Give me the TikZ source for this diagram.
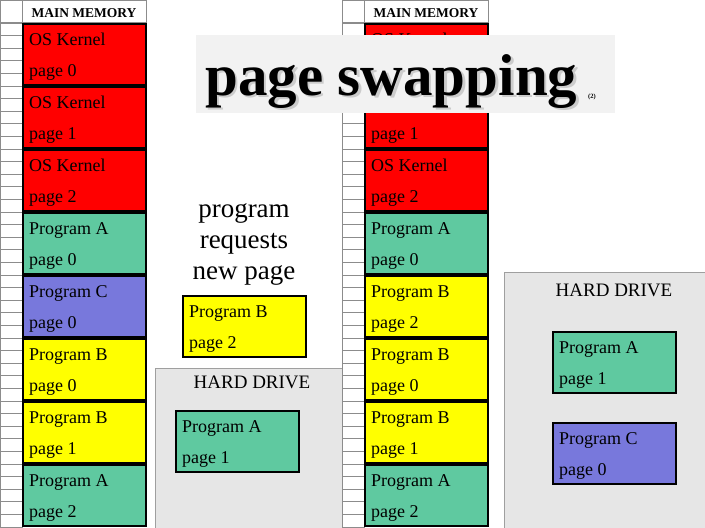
\documentclass[tikz,border=0pt]{standalone}
\usepackage{fontspec}
\setmainfont{Liberation Serif}
\definecolor{memred}{HTML}{FF0000}
\definecolor{memgreen}{HTML}{5FC9A0}
\definecolor{mempurple}{HTML}{7878DC}
\definecolor{memyellow}{HTML}{FFFF00}
\definecolor{hdgrey}{HTML}{E6E6E6}
\definecolor{titlegrey}{HTML}{F2F2F2}
\definecolor{gridgrey}{HTML}{8C8C8C}
\tikzset{
  blk/.style={draw=black, line width=2.5pt, anchor=north west, minimum width=123pt, minimum height=61pt, inner sep=0pt, outer sep=0pt},
  txt/.style={anchor=base west, inner sep=0pt, font=\fontsize{18}{20}\selectfont},
  gridline/.style={draw=gridgrey, line width=1pt},
  hdbox/.style={draw=gray!75, fill=hdgrey, line width=1pt},
  hdlabel/.style={anchor=base, inner sep=0pt, font=\fontsize{19}{21}\selectfont},
  hdr/.style={anchor=base, inner sep=0pt, font=\fontsize{13.5}{15}\selectfont\bfseries},
  bigtxt/.style={anchor=base, inner sep=0pt, font=\fontsize{27}{30}\selectfont},
}
\newcommand\memblk[6]{%
  \node[blk, fill=#4] (#1) at (#2,#3) {};
  \node[txt] (#1-a) at ({#2+6},{#3+21}) {#5};
  \node[txt] (#1-b) at ({#2+6},{#3+52}) {#6};
}
\newcommand\memgrid[2]{% prefix, x0
  \foreach \k in {0,...,40} {\draw[gridline] ({#2},{23+12.6*\k}) -- ({#2+22},{23+12.6*\k});}
  \draw[gridline] ({#2+0.5},0) -- ({#2+0.5},528);
  \draw[gridline] ({#2+22},0) -- ({#2+22},528);
  \draw[gridline] ({#2+0.5},0.5) -- ({#2+146},0.5) -- ({#2+146},23);
  \draw[gridline] ({#2+0.5},22.5) -- ({#2+146},22.5);
  \node[hdr] (#1-hdr) at ({#2+84},17) {MAIN MEMORY};
}
\begin{document}
\begin{tikzpicture}[x=1pt,y=-1pt]
\useasboundingbox (0,0) rectangle (705,528);
% hard drives
\draw[hdbox] (155,368) rectangle (342,530);
\draw[hdbox] (504,272) rectangle (707,530);
% left memory
\memgrid{L}{0}
\memblk{L1}{23}{24}{memred}{OS Kernel}{page 0}
\memblk{L2}{23}{87}{memred}{OS Kernel}{page 1}
\memblk{L3}{23}{150}{memred}{OS Kernel}{page 2}
\memblk{L4}{23}{213}{memgreen}{Program A}{page 0}
\memblk{L5}{23}{276}{mempurple}{Program C}{page 0}
\memblk{L6}{23}{339}{memyellow}{Program B}{page 0}
\memblk{L7}{23}{402}{memyellow}{Program B}{page 1}
\memblk{L8}{23}{465}{memgreen}{Program A}{page 2}
% right memory
\memgrid{R}{342}
\memblk{R1}{365}{24}{memred}{OS Kernel}{}
\memblk{R2}{365}{87}{memred}{OS Kernel}{page 1}
\memblk{R3}{365}{150}{memred}{OS Kernel}{page 2}
\memblk{R4}{365}{213}{memgreen}{Program A}{page 0}
\memblk{R5}{365}{276}{memyellow}{Program B}{page 2}
\memblk{R6}{365}{339}{memyellow}{Program B}{page 0}
\memblk{R7}{365}{402}{memyellow}{Program B}{page 1}
\memblk{R8}{365}{465}{memgreen}{Program A}{page 2}
% request
\node[bigtxt] (req1) at (244,217) {program};
\node[bigtxt] (req2) at (244,248) {requests};
\node[bigtxt] (req3) at (244,279) {new page};
\memblk{NB}{183}{296}{memyellow}{Program B}{page 2}
% hard drive contents
\node[hdlabel] (hd1) at (252,388) {HARD DRIVE};
\memblk{HA}{176}{411}{memgreen}{Program A}{page 1}
\node[hdlabel] (hd2) at (614,296) {HARD DRIVE};
\memblk{HB}{553}{332}{memgreen}{Program A}{page 1}
\memblk{HC}{553}{423}{mempurple}{Program C}{page 0}
% title
\node[fill=titlegrey, anchor=north west, minimum width=419pt, minimum height=78pt, inner sep=0pt] (titlebox) at (196,35) {};
\node[anchor=base west, inner sep=0pt, font=\fontsize{59}{60}\selectfont\bfseries, text=gray!40] (titleshadow) at (207.5,97.5) {page swapping};
\node[anchor=base west, inner sep=0pt, font=\fontsize{59}{60}\selectfont\bfseries] (title) at (205,95) {page swapping};
\node[anchor=base west, inner sep=0pt, font=\fontsize{6.5}{7}\selectfont\bfseries] (two) at (588,98) {(2)};
\end{tikzpicture}
\end{document}
